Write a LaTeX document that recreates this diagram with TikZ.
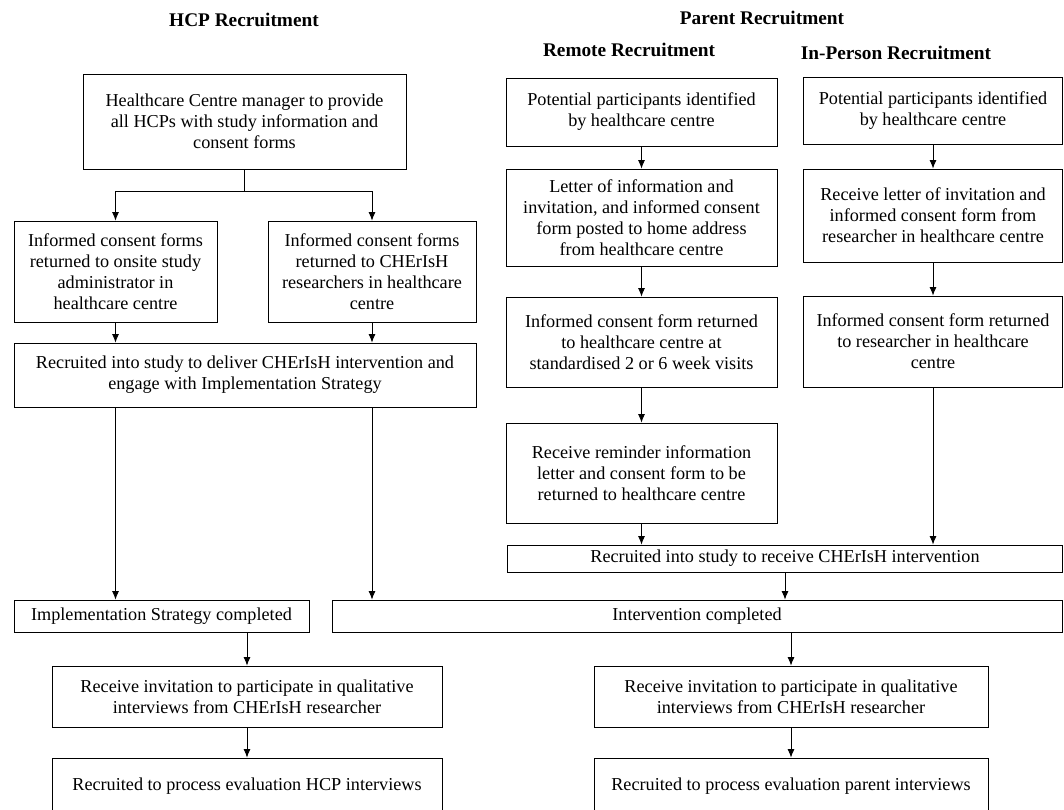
\documentclass[tikz,border=0pt]{standalone}
\usepackage{fontspec}
\setmainfont{Liberation Serif}
\usepackage{tikz}
\usetikzlibrary{arrows.meta}

\begin{document}
\begin{tikzpicture}[x=1pt,y=-1pt]%
  \tikzstyle{boxn}=[rectangle,draw,line width=0.9pt,inner sep=0,align=center,
    font=\fontsize{18.2}{21}\selectfont]
  \tikzstyle{head}=[font=\fontsize{19.3}{21}\selectfont\bfseries]
  \tikzstyle{arr}=[line width=0.8pt,-{Latex[length=8.5pt,width=7pt]}]
  \useasboundingbox (0,0) rectangle (1064,809);
  \node(th)[head] at (244,20){HCP Recruitment};
  \node(tp)[head] at (762,18){Parent Recruitment};
  \node(tr)[head] at (629,50){Remote Recruitment};
  \node(ti)[head] at (896,53){In-Person Recruitment};
  \node(h0)[boxn,minimum width=323,minimum height=95] at (244.5,121.5)
    {Healthcare Centre manager to provide\\all HCPs with study information and\\consent forms};
  \node(h1)[boxn,minimum width=203,minimum height=101] at (115.5,271.5)
    {Informed consent forms\\returned to onsite study\\administrator in\\healthcare centre};
  \node(h2)[boxn,minimum width=208,minimum height=101] at (372,271.5)
    {Informed consent forms\\returned to CHErIsH\\researchers in healthcare\\centre};
  \node(h3)[boxn,minimum width=462,minimum height=64] at (245,375)
    {Recruited into study to deliver CHErIsH intervention and\\engage with Implementation Strategy};
  \node(h4)[boxn,minimum width=295,minimum height=32] at (161.5,616)
    {Implementation Strategy completed};
  \node(h5)[boxn,minimum width=390,minimum height=61] at (247,696.5)
    {Receive invitation to participate in qualitative\\interviews from CHErIsH researcher};
  \node(h6)[boxn,minimum width=390,minimum height=56] at (247,786)
    {Recruited to process evaluation HCP interviews};
  \node(r1)[boxn,minimum width=271,minimum height=68] at (641.5,112)
    {Potential participants identified\\by healthcare centre};
  \node(r2)[boxn,minimum width=271,minimum height=97] at (641.5,217.5)
    {Letter of information and\\invitation, and informed consent\\form posted to home address\\from healthcare centre};
  \node(r3)[boxn,minimum width=271,minimum height=90] at (641.5,342)
    {Informed consent form returned\\to healthcare centre at\\standardised 2 or 6 week visits};
  \node(r4)[boxn,minimum width=271,minimum height=100] at (641.5,473)
    {Receive reminder information\\letter and consent form to be\\returned to healthcare centre};
  \node(p1)[boxn,minimum width=259,minimum height=67] at (933,110.5)
    {Potential participants identified\\by healthcare centre};
  \node(p2)[boxn,minimum width=259,minimum height=93] at (933,215.5)
    {Receive letter of invitation and\\informed consent form from\\researcher in healthcare centre};
  \node(p3)[boxn,minimum width=259,minimum height=91] at (933,341.5)
    {Informed consent form returned\\to researcher in healthcare\\centre};
  \node(pr)[boxn,minimum width=555,minimum height=27] at (785,558.5)
    {Recruited into study to receive CHErIsH intervention};
  \node(pc)[boxn,minimum width=730,minimum height=32] at (697,616)
    {Intervention completed};
  \node(p5)[boxn,minimum width=394,minimum height=61] at (791,696.5)
    {Receive invitation to participate in qualitative\\interviews from CHErIsH researcher};
  \node(p6)[boxn,minimum width=394,minimum height=56] at (791,786)
    {Recruited to process evaluation parent interviews};
  \coordinate(hs) at (244.5,191);
  \draw[line width=0.8pt] (h0) -- (hs);
  \draw[arr] (hs) -| (h1);
  \draw[arr] (hs) -| (h2);
  \draw[arr] (h1) -- (h1 |- h3.north);
  \draw[arr] (h2) -- (h2 |- h3.north);
  \draw[arr] (h1 |- h3.south) -- (h1 |- h4.north);
  \draw[arr] (h2 |- h3.south) -- (h2 |- pc.north);
  \draw[arr] (h5 |- h4.south) -- (h5);
  \draw[arr] (h5) -- (h6);
  \draw[arr] (r1) -- (r2);
  \draw[arr] (r2) -- (r3);
  \draw[arr] (r3) -- (r4);
  \draw[arr] (r4) -- (r4 |- pr.north);
  \draw[arr] (p1) -- (p2);
  \draw[arr] (p2) -- (p3);
  \draw[arr] (p3) -- (p3 |- pr.north);
  \draw[arr] (pr) -- (pr |- pc.north);
  \draw[arr] (p5 |- pc.south) -- (p5);
  \draw[arr] (p5) -- (p6);
\end{tikzpicture}
\end{document}
